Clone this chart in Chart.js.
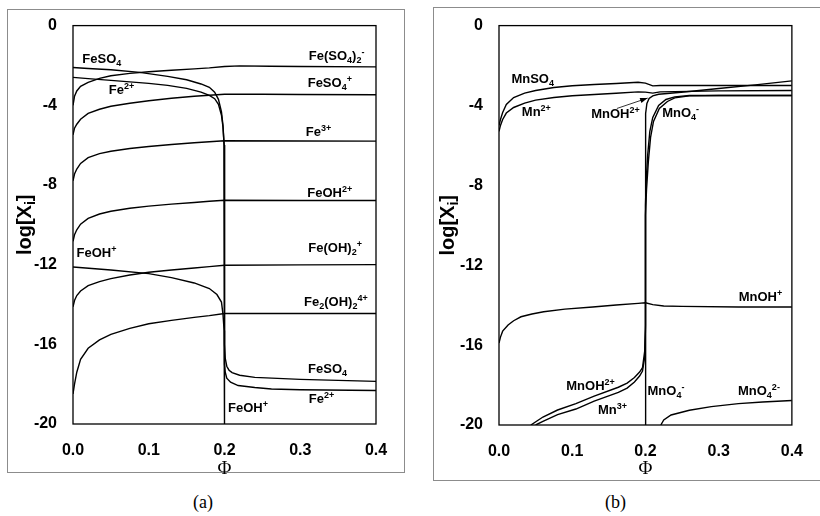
<!DOCTYPE html>
<html>
<head>
<meta charset="utf-8">
<script src="https://cdn.jsdelivr.net/npm/chart.js@4.4.1/dist/chart.umd.min.js"></script>
<style>
  body { margin: 0; background: #fff; width: 820px; height: 516px; overflow: hidden; position: relative; }
  .frame { position: absolute; border: 1px solid #8c8c8c; }
  .cap { position: absolute; top: 492px; font-family: "Liberation Serif", "Times New Roman", serif; font-size: 18px; color: #000; }
  .box { position: absolute; top: 0; height: 480px; width: 410px; }
</style>
</head>
<body>
<div class="frame" style="left:7px;top:9px;width:396px;height:462px"></div>
<div class="frame" style="left:433px;top:7px;width:400px;height:472px"></div>
<div class="box" style="left:0"><canvas id="chartA" width="410" height="480"></canvas></div>
<div class="box" style="left:410px"><canvas id="chartB" width="410" height="480"></canvas></div>
<div class="cap" style="left:193px">(a)</div>
<div class="cap" style="left:605px">(b)</div>
<script>
// --- axis ticks ---
const xTicks = [0.0, 0.1, 0.2, 0.3, 0.4];
const yTicks = [0, -4, -8, -12, -16, -20];

// --- panel (a): Fe species ---
const phiGridA = [0, 0.002, 0.005, 0.01, 0.02, 0.035, 0.05, 0.075, 0.1, 0.13, 0.16, 0.18, 0.2, 0.3, 0.4];
const logFe3 = [-7.79, -7.45, -7.2, -6.92, -6.63, -6.43, -6.31, -6.17, -6.07, -5.97, -5.88, -5.83, -5.78, -5.79, -5.8];
const logFeOH2 = [-10.83, -10.5, -10.25, -9.97, -9.68, -9.46, -9.32, -9.17, -9.06, -8.96, -8.88, -8.82, -8.77, -8.78, -8.78];
const logFeOH2plus = [-14.12, -13.8, -13.55, -13.32, -13.05, -12.85, -12.7, -12.52, -12.38, -12.27, -12.17, -12.1, -12.03, -12.01, -12.0];
const logFe2OH2 = [-18.49, -18.0, -17.4, -16.75, -16.2, -15.78, -15.5, -15.2, -14.97, -14.8, -14.65, -14.56, -14.45, -14.45, -14.45];

const phiFeSO42 = [0, 0.002, 0.005, 0.01, 0.02, 0.035, 0.05, 0.075, 0.1, 0.13, 0.16, 0.18, 0.2, 0.22, 0.26, 0.3, 0.4];
const logFeSO42 = [-4.0, -3.55, -3.28, -3.05, -2.85, -2.65, -2.52, -2.4, -2.32, -2.24, -2.17, -2.12, -2.05, -2.02, -2.04, -2.05, -2.07];

const phiFeSO4p = [0, 0.002, 0.005, 0.01, 0.02, 0.035, 0.05, 0.075, 0.1, 0.13, 0.16, 0.18, 0.2, 0.25, 0.3, 0.4];
const logFeSO4p = [-5.48, -5.15, -4.95, -4.7, -4.41, -4.2, -4.05, -3.9, -3.77, -3.65, -3.55, -3.5, -3.45, -3.45, -3.46, -3.47];

const phiFeSO4 = [0, 0.02, 0.05, 0.088, 0.125, 0.15, 0.169, 0.18, 0.187, 0.192, 0.196, 0.198, 0.1995, 0.2, 0.2, 0.201, 0.203, 0.206, 0.21, 0.22, 0.24, 0.3, 0.4];
const logFeSO4 = [-2.1, -2.15, -2.22, -2.35, -2.55, -2.72, -2.93, -3.1, -3.34, -3.7, -4.33, -5.0, -6.0, -8.0, -16.0, -16.7, -17.1, -17.3, -17.42, -17.55, -17.66, -17.76, -17.86];

const phiFe2 = [0, 0.02, 0.05, 0.1, 0.125, 0.15, 0.169, 0.18, 0.187, 0.192, 0.196, 0.198, 0.1995, 0.2, 0.2, 0.201, 0.203, 0.208, 0.218, 0.24, 0.262, 0.3, 0.4];
const logFe2 = [-2.6, -2.66, -2.75, -2.9, -3.0, -3.15, -3.34, -3.5, -3.67, -3.95, -4.5, -5.1, -6.0, -7.5, -17.0, -17.4, -17.7, -17.9, -18.07, -18.17, -18.24, -18.28, -18.32];

const phiFeOH = [0, 0.05, 0.1, 0.13, 0.16, 0.18, 0.19, 0.196, 0.198, 0.1995, 0.2, 0.2];
const logFeOH = [-12.12, -12.27, -12.45, -12.65, -12.92, -13.2, -13.5, -13.88, -14.5, -15.3, -16.5, -20];

// --- panel (b): Mn species ---
const phiMnGrid = [0, 0.002, 0.005, 0.01, 0.02, 0.035, 0.05, 0.075, 0.1, 0.13, 0.16, 0.19, 0.2, 0.21, 0.22, 0.3, 0.4];
const logMnSO4 = [-5.0, -4.7, -4.35, -3.95, -3.6, -3.38, -3.25, -3.1, -3.01, -2.95, -2.9, -2.84, -2.88, -3.02, -3.0, -3.0, -3.0];
const logMn2 = [-5.3, -5.0, -4.7, -4.38, -4.1, -3.88, -3.73, -3.6, -3.51, -3.45, -3.39, -3.32, -3.33, -3.38, -3.32, -3.27, -3.25];

const phiMnOH = [0, 0.002, 0.005, 0.0124, 0.02, 0.03, 0.045, 0.061, 0.09, 0.128, 0.16, 0.19, 0.2, 0.21, 0.225, 0.25, 0.327, 0.4];
const logMnOH = [-15.9, -15.6, -15.3, -14.99, -14.78, -14.58, -14.44, -14.33, -14.2, -14.09, -13.99, -13.91, -13.88, -13.97, -14.04, -14.06, -14.09, -14.09];

const phiMnOH2 = [0.0435, 0.06, 0.08, 0.105, 0.13, 0.163, 0.175, 0.185, 0.192, 0.196, 0.199, 0.2, 0.2, 0.201, 0.203, 0.206, 0.21, 0.218, 0.228, 0.24, 0.26, 0.3, 0.4];
const logMnOH2 = [-20, -19.6, -19.25, -18.93, -18.55, -18.11, -17.9, -17.62, -17.35, -17.13, -16.3, -15.0, -9.0, -7.8, -6.5, -5.3, -4.6, -4.0, -3.7, -3.57, -3.5, -3.5, -3.5];

const phiMn3 = [0.05, 0.06, 0.08, 0.105, 0.13, 0.163, 0.175, 0.185, 0.192, 0.196, 0.199, 0.2, 0.2, 0.2015, 0.204, 0.207, 0.211, 0.219, 0.23, 0.24, 0.26, 0.3, 0.4];
const logMn3 = [-20, -19.82, -19.48, -19.2, -18.8, -18.37, -18.15, -17.85, -17.55, -17.3, -16.6, -15.2, -9.5, -8.2, -6.8, -5.6, -4.8, -4.15, -3.8, -3.62, -3.52, -3.5, -3.5];

const phiMnO4 = [0.2, 0.2, 0.2005, 0.202, 0.205, 0.21, 0.218, 0.23, 0.26, 0.3, 0.35, 0.4];
const logMnO4 = [-20, -5.5, -4.4, -3.9, -3.65, -3.52, -3.44, -3.4, -3.3, -3.15, -2.97, -2.77];

const phiMnO42 = [0.221, 0.225, 0.235, 0.26, 0.29, 0.327, 0.36, 0.4];
const logMnO42 = [-20, -19.75, -19.5, -19.26, -19.08, -18.93, -18.85, -18.77];

// --- curve labels: [text, phi, log] ---
const labelsA = [
    ['FeSO_{4}', 0.038, -1.7],
    ['Fe(SO_{4})_{2}^{-}', 0.348, -1.56],
    ['Fe^{2+}', 0.064, -3.26],
    ['FeSO_{4}^{+}', 0.339, -2.88],
    ['Fe^{3+}', 0.324, -5.35],
    ['FeOH^{2+}', 0.339, -8.41],
    ['FeOH^{+}', 0.031, -11.45],
    ['Fe(OH)_{2}^{+}', 0.346, -11.2],
    ['Fe_{2}(OH)_{2}^{4+}', 0.347, -13.91],
    ['FeSO_{4}', 0.336, -17.28],
    ['Fe^{2+}', 0.328, -18.77],
    ['FeOH^{+}', 0.231, -19.24]
];
const labelsB = [
    ['MnSO_{4}', 0.046, -2.71],
    ['Mn^{2+}', 0.051, -4.35],
    ['MnOH^{2+}', 0.159, -4.43],
    ['MnO_{4}^{-}', 0.248, -4.4],
    ['MnOH^{+}', 0.357, -13.6],
    ['MnOH^{2+}', 0.125, -18.06],
    ['Mn^{3+}', 0.155, -19.29],
    ['MnO_{4}^{-}', 0.228, -18.31],
    ['MnO_{4}^{2-}', 0.355, -18.31]
];
const arrowB = [0.161, -4.15, 0.203, -3.63];

// --- helpers ---
function pts(xs, ys) {
    return xs.map((x, i) => ({ x: x, y: ys[i] }));
}

function parseRich(str) {
    const out = [];
    let i = 0;
    while (i < str.length) {
        const c = str[i];
        if ((c === '_' || c === '^') && str[i + 1] === '{') {
            const end = str.indexOf('}', i);
            out.push({ t: str.slice(i + 2, end), mode: c === '_' ? 1 : 2 });
            i = end + 1;
        } else {
            let j = i;
            while (j < str.length && !((str[j] === '_' || str[j] === '^') && str[j + 1] === '{')) j++;
            out.push({ t: str.slice(i, j), mode: 0 });
            i = j;
        }
    }
    return out;
}

function drawRich(ctx, str, cx, cy, size) {
    const parts = parseRich(str);
    const small = Math.round(size * 0.68);
    const fam = '"Liberation Sans", Arial, sans-serif';
    let total = 0;
    parts.forEach(p => {
        ctx.font = 'bold ' + (p.mode ? small : size) + 'px ' + fam;
        p.w = ctx.measureText(p.t).width;
        total += p.w;
    });
    let x = cx - total / 2;
    ctx.textBaseline = 'middle';
    ctx.textAlign = 'left';
    parts.forEach(p => {
        ctx.font = 'bold ' + (p.mode ? small : size) + 'px ' + fam;
        let dy = 0;
        if (p.mode === 1) dy = size * 0.32;
        if (p.mode === 2) dy = -size * 0.3;
        ctx.fillText(p.t, x, cy + dy);
        x += p.w;
    });
}

const annotate = {
    id: 'annotate',
    afterDatasetsDraw(chart, args, opts) {
        const { ctx, chartArea: a, scales: { x, y } } = chart;
        ctx.save();
        ctx.strokeStyle = '#000';
        ctx.lineWidth = 1.3;
        ctx.strokeRect(a.left, a.top, a.right - a.left, a.bottom - a.top);
        ctx.fillStyle = '#000';
        opts.items.forEach(it => drawRich(ctx, it[0], x.getPixelForValue(it[1]), y.getPixelForValue(it[2]), 13));
        if (opts.arrow) {
            const x1 = x.getPixelForValue(opts.arrow[0]), y1 = y.getPixelForValue(opts.arrow[1]);
            const x2 = x.getPixelForValue(opts.arrow[2]), y2 = y.getPixelForValue(opts.arrow[3]);
            ctx.lineWidth = 0.8;
            ctx.beginPath(); ctx.moveTo(x1, y1); ctx.lineTo(x2, y2); ctx.stroke();
            const ang = Math.atan2(y2 - y1, x2 - x1);
            ctx.beginPath();
            ctx.moveTo(x2, y2);
            ctx.lineTo(x2 - 8 * Math.cos(ang - 0.35), y2 - 8 * Math.sin(ang - 0.35));
            ctx.lineTo(x2 - 8 * Math.cos(ang + 0.35), y2 - 8 * Math.sin(ang + 0.35));
            ctx.closePath(); ctx.fill();
        }
        // y title with subscript, centred on the plot area
        ctx.translate(opts.titleX, (a.top + a.bottom) / 2);
        ctx.rotate(-Math.PI / 2);
        drawRich(ctx, 'log[X_{i}]', 0, 0, 20);
        ctx.restore();
    }
};

function makeChart(id, series, labels, arrow, axisW, axisH, padRight, titleX) {
    return new Chart(document.getElementById(id), {
        type: 'scatter',
        data: {
            datasets: series.map(s => ({
                data: pts(s[0], s[1]),
                showLine: true,
                borderColor: '#000',
                borderWidth: 1.4,
                pointRadius: 0,
                tension: 0,
                fill: false
            }))
        },
        plugins: [annotate],
        options: {
            responsive: false,
            animation: false,
            events: [],
            layout: { padding: { top: 19, right: padRight, left: 0, bottom: 0 } },
            plugins: {
                legend: { display: false },
                tooltip: { enabled: false },
                annotate: { items: labels, arrow: arrow, titleX: titleX }
            },
            scales: {
                x: {
                    type: 'linear', min: 0, max: 0.4,
                    afterFit: s => { s.height = axisH; },
                    afterBuildTicks: s => { s.ticks = xTicks.map(v => ({ value: v })); },
                    grid: { display: false, drawTicks: false },
                    border: { display: false },
                    ticks: {
                        padding: 17, color: '#000',
                        font: { family: '"Liberation Sans", Arial, sans-serif', size: 16, weight: 'bold' },
                        callback: v => v.toFixed(1)
                    },
                    title: {
                        display: true, text: 'Φ', color: '#000', padding: { top: 0, bottom: 0 },
                        font: { family: '"Liberation Serif", "Times New Roman", serif', size: 19 }
                    }
                },
                y: {
                    type: 'linear', min: -20, max: 0,
                    afterFit: s => { s.width = axisW; },
                    afterBuildTicks: s => { s.ticks = yTicks.map(v => ({ value: v })); },
                    grid: { display: false, drawTicks: false },
                    border: { display: false },
                    ticks: {
                        padding: 16, color: '#000',
                        font: { family: '"Liberation Sans", Arial, sans-serif', size: 16, weight: 'bold' }
                    }
                }
            }
        }
    });
}

makeChart('chartA', [
    [phiFeSO42, logFeSO42],
    [phiFeSO4p, logFeSO4p],
    [phiGridA, logFe3],
    [phiGridA, logFeOH2],
    [phiGridA, logFeOH2plus],
    [phiGridA, logFe2OH2],
    [phiFeSO4, logFeSO4],
    [phiFe2, logFe2],
    [phiFeOH, logFeOH]
], labelsA, null, 73, 56, 34, 25);

makeChart('chartB', [
    [phiMnGrid, logMnSO4],
    [phiMnGrid, logMn2],
    [phiMnOH, logMnOH],
    [phiMnOH2, logMnOH2],
    [phiMn3, logMn3],
    [phiMnO4, logMnO4],
    [phiMnO42, logMnO42]
], labelsB, arrowB, 89, 55, 20, 38);
</script>
</body>
</html>
